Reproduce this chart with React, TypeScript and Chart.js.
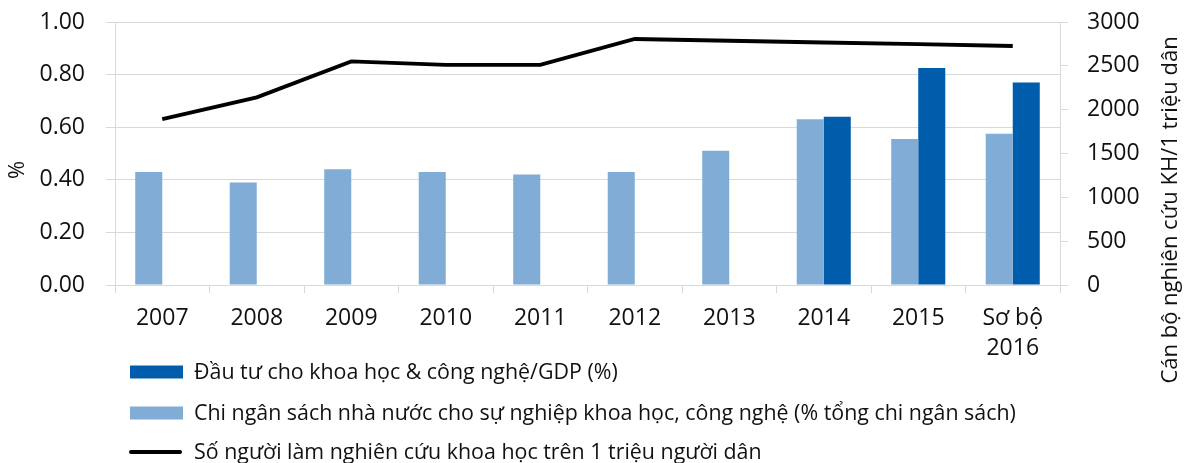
import React, { useEffect, useRef } from "react";
import { Chart, registerables } from "chart.js";

Chart.register(...registerables);

const categories: (string | string[])[] = ["2007", "2008", "2009", "2010", "2011", "2012", "2013", "2014", "2015", ["Sơ bộ", "2016"]];
const budgetShare = [0.43, 0.39, 0.44, 0.43, 0.42, 0.43, 0.51, 0.63, 0.555, 0.575];
const investGdp = [null, null, null, null, null, null, null, 0.64, 0.825, 0.77];
const researchers = [1893, 2141, 2550, 2510, 2510, 2806, 2786, 2766, 2747, 2726];

const leftTitle = "%";
const rightTitle = "Cán bộ nghiên cứu KH/1 triệu dân";
const legendInvest = "Đầu tư cho khoa học & công nghệ/GDP (%)";
const legendBudget = "Chi ngân sách nhà nước cho sự nghiệp khoa học, công nghệ (% tổng chi ngân sách)";
const legendResearchers = "Số người làm nghiên cứu khoa học trên 1 triệu người dân";

const DARK = "#005dab";
const LIGHT = "#80acd6";
const GRID = "#d9d9d9";
const FONT = "'Open Sans', sans-serif";

const overlay = {
  id: "overlay",
  afterDraw(chart: any) {
    const ctx = chart.ctx as CanvasRenderingContext2D;
    ctx.save();
    ctx.fillStyle = "#111";
    ctx.font = `22px ${FONT}`;
    ctx.textAlign = "center";
    ctx.textBaseline = "middle";
    // left title
    ctx.save();
    ctx.translate(18, 170);
    ctx.rotate(-Math.PI / 2);
    ctx.fillText(leftTitle, 0, 0);
    ctx.restore();
    // right title
    ctx.save();
    ctx.translate(1171, 210);
    ctx.rotate(-Math.PI / 2);
    ctx.fillText(rightTitle, 0, 0);
    ctx.restore();
    // legend
    ctx.font = `21.4px ${FONT}`;
    ctx.textAlign = "left";
    const rows = [
      { y: 372, type: "box", color: DARK, text: legendInvest },
      { y: 413, type: "box", color: LIGHT, text: legendBudget },
      { y: 452, type: "line", color: "#000", text: legendResearchers },
    ];
    for (const r of rows) {
      if (r.type === "box") {
        ctx.fillStyle = r.color;
        ctx.fillRect(130, r.y - 6.5, 53, 13);
      } else {
        ctx.strokeStyle = r.color;
        ctx.lineWidth = 4;
        ctx.lineCap = "round";
        ctx.beginPath();
        ctx.moveTo(131, r.y);
        ctx.lineTo(180, r.y);
        ctx.stroke();
      }
      ctx.fillStyle = "#111";
      ctx.fillText(r.text, 194, r.y + 1);
    }
    ctx.restore();
  },
};

export default function App() {
  const ref = useRef<HTMLCanvasElement>(null);
  useEffect(() => {
    document.body.style.margin = "0";
    const tickFont = { family: FONT, size: 23, lineHeight: 1.3 };
    const chart = new Chart(ref.current!, {
      type: "bar",
      data: {
        labels: categories as any,
        datasets: [
          {
            type: "bar",
            label: legendBudget,
            data: budgetShare,
            backgroundColor: LIGHT,
            yAxisID: "y",
            order: 1,
            categoryPercentage: 0.572,
            barPercentage: 1,
          },
          {
            type: "bar",
            label: legendInvest,
            data: investGdp as any,
            backgroundColor: DARK,
            yAxisID: "y",
            order: 1,
            categoryPercentage: 0.572,
            barPercentage: 1,
          },
          {
            type: "line",
            label: legendResearchers,
            data: researchers,
            borderColor: "#000",
            borderWidth: 3.8,
            pointRadius: 0,
            tension: 0,
            yAxisID: "y1",
            order: 0,
          } as any,
        ],
      },
      options: {
        animation: false,
        responsive: false,
        maintainAspectRatio: false,
        layout: { padding: { top: 22, left: 0, right: 0, bottom: 0 } },
        plugins: { legend: { display: false }, tooltip: { enabled: false } },
        scales: {
          x: {
            offset: true,
            grid: { display: true, drawOnChartArea: false, drawTicks: true, tickLength: 8, color: GRID, offset: true },
            border: { display: true, color: GRID },
            ticks: { font: tickFont, color: "#111", padding: 11, maxRotation: 0, autoSkip: false },
            afterFit: (s: any) => { s.height = 178; s.paddingLeft = 0; s.paddingRight = 0; },
          },
          y: {
            position: "left",
            min: 0,
            max: 1,
            ticks: { stepSize: 0.2, font: tickFont, color: "#111", padding: 21, callback: (v: any) => Number(v).toFixed(2) },
            grid: { color: GRID, tickLength: 9 },
            border: { display: true, color: GRID },
            afterFit: (s: any) => { s.width = 115; s.paddingTop = 0; s.paddingBottom = 0; },
          },
          y1: {
            position: "right",
            min: 0,
            max: 3000,
            ticks: { stepSize: 500, font: tickFont, color: "#111", padding: 19, callback: (v: any) => String(v) },
            grid: { drawOnChartArea: false, color: GRID, tickLength: 8 },
            border: { display: true, color: GRID },
            afterFit: (s: any) => { s.width = 128; s.paddingTop = 0; s.paddingBottom = 0; },
          },
        },
      },
      plugins: [overlay],
    });
    return () => chart.destroy();
  }, []);
  return (
    <div style={{ width: 1188, height: 463, overflow: "hidden", background: "#fff" }}>
      <canvas ref={ref} width={1188} height={463} style={{ display: "block" }} />
    </div>
  );
}
